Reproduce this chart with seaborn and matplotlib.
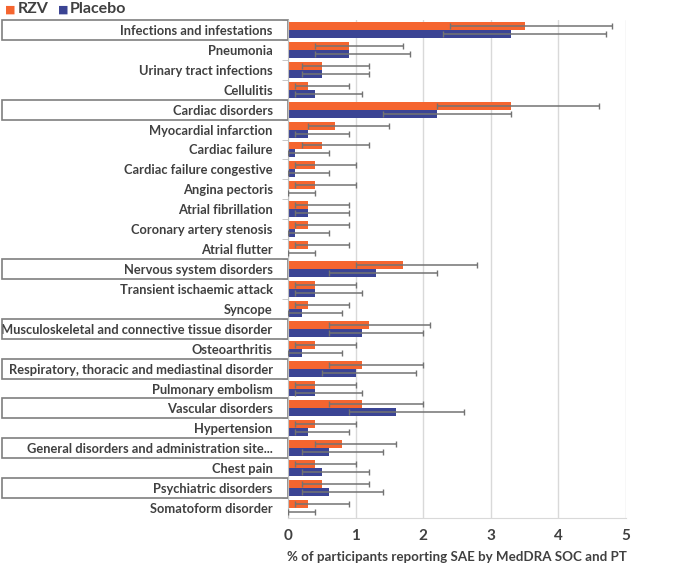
import pandas as pd
import numpy as np
import matplotlib
matplotlib.use('Agg')
import matplotlib.pyplot as plt
import matplotlib.transforms as mtransforms
from matplotlib.patches import Rectangle
import seaborn as sns

categories = ['Infections and infestations', 'Pneumonia', 'Urinary tract infections', 'Cellulitis',
              'Cardiac disorders', 'Myocardial infarction', 'Cardiac failure', 'Cardiac failure congestive',
              'Angina pectoris', 'Atrial fibrillation', 'Coronary artery stenosis', 'Atrial flutter',
              'Nervous system disorders', 'Transient ischaemic attack', 'Syncope',
              'Musculoskeletal and connective tissue disorder', 'Osteoarthritis',
              'Respiratory, thoracic and mediastinal disorder', 'Pulmonary embolism',
              'Vascular disorders', 'Hypertension', 'General disorders and administration site...',
              'Chest pain', 'Psychiatric disorders', 'Somatoform disorder']
# SOC rows get a box round the label
soc = ['Infections and infestations', 'Cardiac disorders', 'Nervous system disorders',
       'Musculoskeletal and connective tissue disorder', 'Respiratory, thoracic and mediastinal disorder',
       'Vascular disorders', 'General disorders and administration site...', 'Psychiatric disorders']

rzv = [3.5, 0.9, 0.5, 0.3, 3.3, 0.7, 0.5, 0.4, 0.4, 0.3, 0.3, 0.3, 1.7, 0.4, 0.3,
       1.2, 0.4, 1.1, 0.4, 1.1, 0.4, 0.8, 0.4, 0.5, 0.3]
rzv_lo = [2.4, 0.4, 0.2, 0.1, 2.2, 0.3, 0.2, 0.1, 0.1, 0.1, 0.1, 0.1, 1.0, 0.1, 0.1,
          0.6, 0.1, 0.6, 0.1, 0.6, 0.1, 0.4, 0.1, 0.2, 0.1]
rzv_hi = [4.8, 1.7, 1.2, 0.9, 4.6, 1.5, 1.2, 1.0, 1.0, 0.9, 0.9, 0.9, 2.8, 1.0, 0.9,
          2.1, 1.0, 2.0, 1.0, 2.0, 1.0, 1.6, 1.0, 1.2, 0.9]
pla = [3.3, 0.9, 0.5, 0.4, 2.2, 0.3, 0.1, 0.1, 0.0, 0.3, 0.1, 0.0, 1.3, 0.4, 0.2,
       1.1, 0.2, 1.0, 0.4, 1.6, 0.3, 0.6, 0.5, 0.6, 0.0]
pla_lo = [2.3, 0.4, 0.2, 0.1, 1.4, 0.1, 0.0, 0.0, 0.0, 0.1, 0.0, 0.0, 0.6, 0.1, 0.0,
          0.6, 0.0, 0.5, 0.1, 0.9, 0.1, 0.2, 0.2, 0.2, 0.0]
pla_hi = [4.7, 1.8, 1.2, 1.1, 3.3, 0.9, 0.6, 0.6, 0.4, 0.9, 0.6, 0.4, 2.2, 1.1, 0.8,
          2.0, 0.8, 1.9, 1.1, 2.6, 0.9, 1.4, 1.2, 1.4, 0.4]

groups = ['RZV', 'Placebo']
colors = ['#F5652F', '#3B4494']
txt = '#404040'

df = pd.DataFrame({
    'cat': categories * 2,
    'grp': ['RZV'] * len(categories) + ['Placebo'] * len(categories),
    'val': rzv + pla,
    'lo': rzv_lo + pla_lo,
    'hi': rzv_hi + pla_hi,
})

sns.set_style('white')
plt.rcParams['font.family'] = ['Lato', 'DejaVu Sans']

fig = plt.figure(figsize=(6.99, 5.68), dpi=100)
ax = fig.add_axes([288 / 699, 50 / 568, 338 / 699, 498 / 568])

sns.barplot(data=df, y='cat', x='val', hue='grp', hue_order=groups, order=categories,
            palette=colors, saturation=1, orient='h', width=0.8, ax=ax, legend=False,
            edgecolor='none', errorbar=None)

# error bars, placed on the bars seaborn drew
bars = [p for p in ax.patches if isinstance(p, Rectangle) and p.get_height() > 0]
n = len(categories)
for gi, g in enumerate(groups):
    sub = df[df.grp == g].reset_index(drop=True)
    for i in range(n):
        p = bars[gi * n + i]
        yc = p.get_y() + p.get_height() / 2
        v, lo, hi = sub.val[i], sub.lo[i], sub.hi[i]
        ax.errorbar(v, yc, xerr=[[v - lo], [hi - v]], fmt='none',
                    ecolor='#737373', elinewidth=1.1, capsize=2.5, capthick=1.0, zorder=3)

ax.set_xlim(0, 5)
ax.set_ylim(n - 0.5, -0.5)
ax.set_xticks(range(6))
ax.xaxis.grid(True, color='#d9d9d9', lw=1)
ax.set_axisbelow(True)
for s in ['top', 'right']:
    ax.spines[s].set_visible(False)
ax.spines['left'].set_color('#bfbfbf')
ax.spines['bottom'].set_color('#d9d9d9')
ax.set_xlabel('% of participants reporting SAE by MedDRA SOC and PT', fontsize=9.6,
              fontweight='bold', color=txt, labelpad=6)
ax.xaxis.label.set_x(0.5)
ax.set_ylabel('')
ax.tick_params(axis='x', length=0, labelsize=11, labelcolor=txt, pad=8)
for t in ax.get_xticklabels():
    t.set_fontweight('bold')
ax.set_yticks(np.arange(n) - 0.5, minor=True)
ax.tick_params(axis='y', which='minor', length=4, color='#bfbfbf', left=True)
ax.tick_params(axis='y', which='major', length=0, pad=11, labelsize=9.3, labelcolor=txt, left=False)
for t in ax.get_yticklabels():
    t.set_fontweight('bold')

# boxes round SOC labels
tr = mtransforms.blended_transform_factory(fig.transFigure, ax.transData)
for i, c in enumerate(categories):
    if c in soc:
        ax.add_patch(Rectangle((2 / 699, i - 0.5), 286 / 699, 1.0, transform=tr,
                               fill=False, edgecolor='#7f7f7f', lw=1.2, clip_on=False))

# legend
ly = 1 - 9 / 568
fig.text(5 / 699, ly, '■', color=colors[0], fontsize=8, va='center')
fig.text(18 / 699, ly, 'RZV', color=txt, fontsize=11.5, fontweight='bold', va='center')
fig.text(58 / 699, ly, '■', color=colors[1], fontsize=8, va='center')
fig.text(70 / 699, ly, 'Placebo', color=txt, fontsize=11.5, fontweight='bold', va='center')

fig.savefig('out.png', dpi=100)
